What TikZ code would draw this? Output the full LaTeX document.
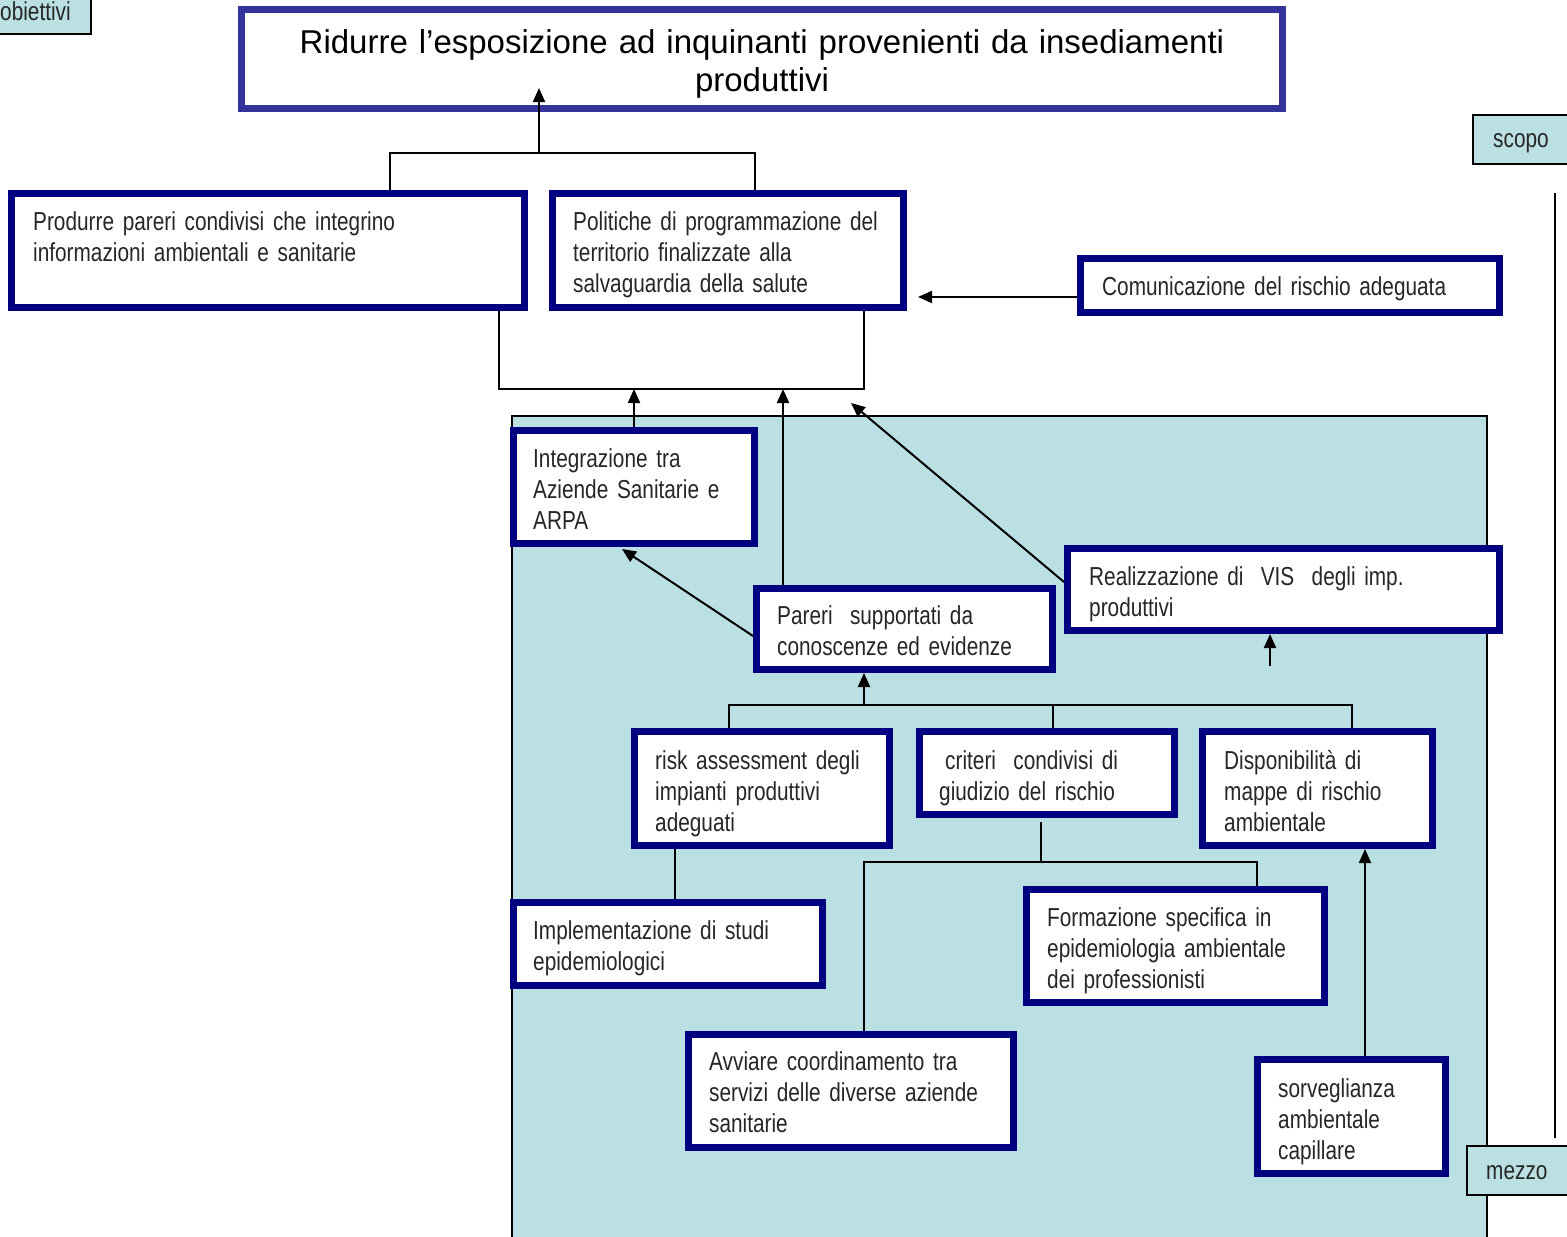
\documentclass[tikz,border=0pt]{standalone}
\usepackage{fontspec}
\setmainfont{Liberation Sans}
\newfontfamily\narfont[FakeStretch=0.80]{Liberation Sans}
\usetikzlibrary{arrows.meta,fit}
\definecolor{navyb}{RGB}{0,0,128}
\definecolor{titleb}{RGB}{51,51,153}
\definecolor{lblue}{RGB}{186,224,227}
\begin{document}
\begin{tikzpicture}[x=1pt,y=-1pt,
  nbox/.style={draw=navyb,line width=7pt,fill=white,inner sep=0pt},
  tbox/.style={draw=titleb,line width=7pt,fill=white,inner sep=0pt},
  lbox/.style={draw=black,line width=1.5pt,fill=lblue},
  txt/.style={anchor=base west,inner sep=0pt,text width=500pt,align=left,
    font=\narfont\fontsize{26}{31}\selectfont,text=black!85},
  conn/.style={line width=2pt},
  arr/.style={line width=2pt,-{Triangle[length=14pt,width=12pt]}}]
\useasboundingbox (0,0) rectangle (1567,1237);
% background panel
\fill[lblue] (512,416) rectangle (1487,1240);
\draw[line width=1.5pt] (512,1240) -- (512,416) -- (1487,416) -- (1487,1240);
% labels
\filldraw[lbox] (-2,-2) rectangle (91,34);
\node[txt,text width=100pt] (lobj) at (0,20) {obiettivi};
\filldraw[lbox] (1473,115) rectangle (1572,164);
\node[txt,text width=100pt] (lsco) at (1493,147) {scopo};
\filldraw[lbox] (1467,1146) rectangle (1572,1195);
\node[txt,text width=100pt] (lmez) at (1486,1179) {mezzo};
\coordinate (vtop) at (1555,193);
\coordinate (vbot) at (1555,1138);
\draw[line width=1.5pt] (vtop) -- (vbot);
% title
\node[tbox,fit={(241.5,9.5)(1282.5,108.5)}] (T) {};
\node[anchor=base,inner sep=0pt,text width=1040pt,align=center,
  font=\fontsize{33}{38}\selectfont] (tT) at (762,53)
  {Ridurre l’esposizione ad inquinanti provenienti da insediamenti\\produttivi};
% boxes
\node[nbox,fit={(11.5,193.5)(524.5,307.5)}] (A) {};
\node[txt] (tA) at (33,230) {Produrre pareri condivisi che integrino\\informazioni ambientali e sanitarie};
\node[nbox,fit={(552.5,193.5)(903.5,307.5)}] (B) {};
\node[txt] (tB) at (573,230) {Politiche di programmazione del\\territorio finalizzate alla\\salvaguardia della salute};
\node[nbox,fit={(1080.5,258.5)(1499.5,312.5)}] (C) {};
\node[txt] (tC) at (1102,295) {Comunicazione del rischio adeguata};
\node[nbox,fit={(513.5,430.5)(754.5,543.5)}] (D) {};
\node[txt] (tD) at (533,467) {Integrazione tra\\Aziende Sanitarie e\\ARPA};
\node[nbox,fit={(756.5,588.5)(1052.5,669.5)}] (E) {};
\node[txt] (tE) at (777,624) {Pareri\ \ supportati da\\conoscenze ed evidenze};
\node[nbox,fit={(1067.5,548.5)(1499.5,630.5)}] (F) {};
\node[txt] (tF) at (1089,585) {Realizzazione di\ \ VIS\ \ degli imp.\\produttivi};
\node[nbox,fit={(634.5,731.5)(889.5,845.5)}] (G) {};
\node[txt] (tG) at (655,769) {risk assessment degli\\impianti produttivi\\adeguati};
\node[nbox,fit={(919.5,731.5)(1174.5,814.5)}] (H) {};
\node[txt] (tH) at (939,769) {\hspace*{6pt}criteri\ \ condivisi di\\giudizio del rischio};
\node[nbox,fit={(1202.5,731.5)(1432.5,845.5)}] (I) {};
\node[txt] (tI) at (1224,769) {Disponibilità di\\mappe di rischio\\ambientale};
\node[nbox,fit={(513.5,902.5)(822.5,985.5)}] (J) {};
\node[txt] (tJ) at (533,939) {Implementazione di studi\\epidemiologici};
\node[nbox,fit={(1026.5,889.5)(1324.5,1002.5)}] (K) {};
\node[txt] (tK) at (1047,926) {Formazione specifica in\\epidemiologia ambientale\\dei professionisti};
\node[nbox,fit={(688.5,1034.5)(1013.5,1147.5)}] (L) {};
\node[txt] (tL) at (709,1070) {Avviare coordinamento tra\\servizi delle diverse aziende\\sanitarie};
\node[nbox,fit={(1257.5,1059.5)(1445.5,1173.5)}] (M) {};
\node[txt] (tM) at (1278,1097) {sorveglianza\\ambientale\\capillare};
% coordinates for free ends
\coordinate (ttip) at (539,88);
\coordinate (j1) at (539,153);
\coordinate (bl) at (499,389);
\coordinate (br) at (864,389);
\coordinate (dtip) at (851,403);
\coordinate (ctip) at (918,297);
\coordinate (ftail) at (1270,666);
\coordinate (j2) at (864,705);
\coordinate (htail) at (1041,822);
\coordinate (j3) at (1041,862);
% top tree
\draw[conn] (A.north -| 390,0) |- (755,153) -- (B.north -| 755,0);
\draw[arr] (j1) -- (ttip);
\draw[arr] (C.west |- 0,297) -- (ctip);
% bracket under A and B
\draw[conn] (A.south -| bl) -- (bl) -- (br) -- (B.south -| br);
\draw[arr] (D.north -| 634,0) -- (634,389);
\draw[arr] (E.north -| 783,0) -- (783,389);
\draw[arr] (1064,582) -- (dtip);
\draw[arr] (753,636) -- (622,549);
\draw[arr] (ftail) -- (F.south -| ftail);
% second tree
\draw[conn] (G.north -| 729,0) |- (1352,705) -- (I.north -| 1352,0);
\draw[conn] (H.north -| 1053,0) -- (1053,705);
\draw[arr] (j2) -- (E.south -| j2);
\draw[conn] (G.south -| 675,0) -- (J.north -| 675,0);
\draw[conn] (htail) -- (j3);
\draw[conn] (L.north -| 864,0) |- (1257,862) -- (K.north -| 1257,0);
\draw[arr] (M.north -| 1365,0) -- (I.south -| 1365,0);
\end{tikzpicture}
\end{document}
